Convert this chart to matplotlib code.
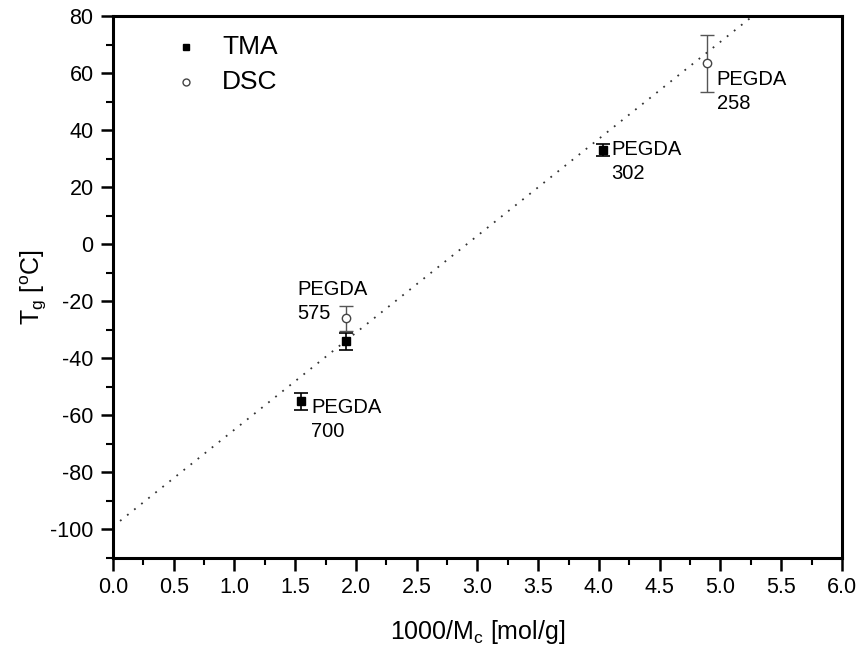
import matplotlib
matplotlib.use("Agg")
import matplotlib.pyplot as plt
import numpy as np
from matplotlib.ticker import MultipleLocator

plt.rcParams['font.family'] = ['Liberation Sans', 'DejaVu Sans']
plt.rcParams['mathtext.fontset'] = 'custom'
plt.rcParams['mathtext.rm'] = 'Liberation Sans'
plt.rcParams['mathtext.it'] = 'Liberation Sans'
plt.rcParams['axes.unicode_minus'] = False

# data
tma_x = [1.55, 1.92, 4.03]
tma_y = [-55, -34, 33]
tma_err = [3, 3, 2]
dsc_x = [1.92, 4.89]
dsc_y = [-26, 63.5]
dsc_err = [4.5, 10]
fit_intercept = -99
fit_slope = 34.0
labels = ["PEGDA\n700", "PEGDA\n575", "PEGDA\n302", "PEGDA\n258"]
label_pos = [(1.63, -61.5), (1.52, -20), (4.10, 29), (4.97, 53.5)]

fig = plt.figure(figsize=(8.6, 6.45), dpi=100)
ax = fig.add_axes([0.1314, 0.135, 0.979 - 0.1314, 0.975 - 0.135])

xf = np.array([0.0, 6.0])
ax.plot(xf, fit_intercept + fit_slope * xf, linestyle=(0, (1, 4)), color='#333333', lw=1.3)

ax.errorbar(tma_x, tma_y, yerr=tma_err, fmt='s', color='black', ms=6,
            mfc='black', mec='black', ecolor='black', elinewidth=1.2, capsize=5, capthick=1.2)
ax.errorbar(dsc_x, dsc_y, yerr=dsc_err, fmt='o', color='black', ms=6,
            mfc='white', mec='#444444', ecolor='#555555', elinewidth=1.0, capsize=5, capthick=1.0)

for t, (px, py) in zip(labels, label_pos):
    ax.text(px, py, t, fontsize=14.5, ha='left', va='center', linespacing=1.3)

# legend
ax.plot([0.6], [69], 's', color='black', ms=5)
ax.plot([0.6], [57], 'o', mfc='white', mec='#444444', ms=5)
ax.text(0.9, 69, "TMA", fontsize=19, va='center')
ax.text(0.9, 57, "DSC", fontsize=19, va='center')

ax.set_xlim(0, 6)
ax.set_ylim(-110, 80)
ax.xaxis.set_major_locator(MultipleLocator(0.5))
ax.xaxis.set_minor_locator(MultipleLocator(0.25))
ax.yaxis.set_major_locator(MultipleLocator(20))
ax.yaxis.set_minor_locator(MultipleLocator(10))
ax.set_yticks(np.arange(-100, 81, 20))
ax.tick_params(which='major', direction='out', length=9, width=1.8, labelsize=15.5, pad=5)
ax.tick_params(which='minor', direction='out', length=5, width=1.5)
for s in ax.spines.values():
    s.set_linewidth(2.2)

ax.set_xlabel("1000/M$_\\mathregular{c}$ [mol/g]", fontsize=18, labelpad=14)
ax.set_ylabel("T$_\\mathregular{g}$ [$^\\mathregular{o}$C]", fontsize=18, labelpad=1)

fig.savefig("out.png", dpi=100)
